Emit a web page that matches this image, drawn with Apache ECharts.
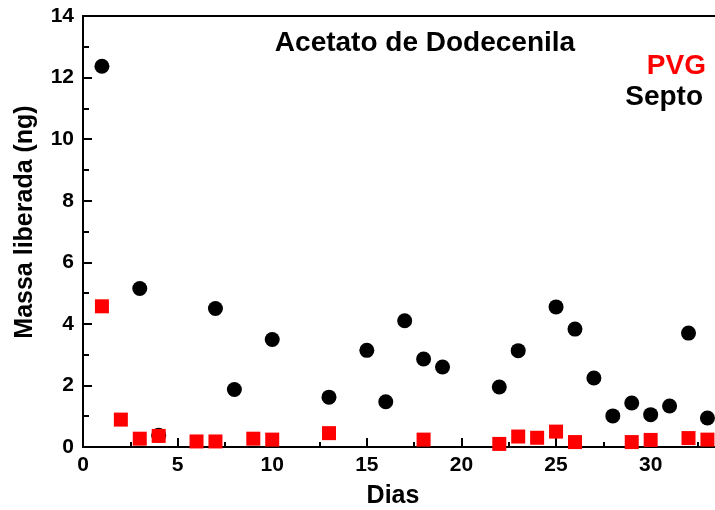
<!DOCTYPE html>
<html>
<head>
<meta charset="utf-8">
<script src="https://cdn.jsdelivr.net/npm/echarts@6/dist/echarts.min.js"></script>
<style>
  html, body { margin: 0; padding: 0; background: #fff; }
  #chart { width: 715px; height: 510px; }
</style>
</head>
<body>
<div id="chart"></div>
<script>
// Release of dodecenyl acetate over time, two dispenser types
const septoDays   = [1, 3, 4, 7, 8, 10, 13, 15, 16, 17, 18, 19, 22, 23, 25, 26, 27, 28, 29, 30, 31, 32, 33];
const septoValues = [12.37, 5.15, 0.38, 4.5, 1.87, 3.49, 1.62, 3.14, 1.47, 4.1, 2.86, 2.6, 1.95, 3.13, 4.55, 3.83, 2.24, 1.01, 1.43, 1.05, 1.33, 3.7, 0.94];

const pvgDays   = [1, 2, 3, 4, 6, 7, 9, 10, 13, 18, 22, 23, 24, 25, 26, 29, 30, 32, 33];
const pvgValues = [4.57, 0.89, 0.27, 0.36, 0.18, 0.18, 0.27, 0.24, 0.45, 0.24, 0.1, 0.34, 0.3, 0.5, 0.16, 0.16, 0.23, 0.29, 0.24];

// x axis is cut at the right edge of the plot, a little past day 33
const xRange = [0, 33.4];
const xMajorTicks = [0, 5, 10, 15, 20, 25, 30];
const xMinorTicks = [2.5, 7.5, 12.5, 17.5, 22.5, 27.5, 32.5];
const yTicks = [0, 2, 4, 6, 8, 10, 12, 14];

const titleText = 'Acetato de Dodecenila';
const xName = 'Dias';
const yName = 'Massa liberada (ng)';
const seriesNames = ['PVG', 'Septo'];

const FONT = 'Liberation Sans, Arial, sans-serif';

const chart = echarts.init(document.getElementById('chart'), null, { renderer: 'canvas' });

const pair = (xs, ys) => xs.map((x, i) => [x, ys[i]]);

const axisLineStyle = { color: '#000', width: 2 };
const tickStyle = { color: '#000', width: 2 };

const baseX = {
  type: 'value',
  min: xRange[0],
  max: xRange[1],
  splitLine: { show: false }
};

chart.setOption({
  animation: false,
  backgroundColor: '#fff',
  grid: { left: 83, top: 16, right: 0, bottom: 63, containLabel: false },
  xAxis: [
    Object.assign({}, baseX, {
      position: 'bottom',
      axisLine: { show: true, onZero: false, lineStyle: axisLineStyle },
      axisTick: { show: true, inside: true, length: 9, lineStyle: tickStyle, customValues: xMajorTicks },
      axisLabel: {
        color: '#000', fontFamily: FONT, fontWeight: 'bold', fontSize: 21, margin: 8,
        customValues: xMajorTicks
      }
    }),
    Object.assign({}, baseX, {
      position: 'top',
      axisLine: { show: true, onZero: false, lineStyle: axisLineStyle },
      axisTick: { show: false },
      axisLabel: { show: false }
    }),
    Object.assign({}, baseX, {
      position: 'bottom',
      axisLine: { show: false, onZero: false },
      axisTick: { show: true, inside: true, length: 5, lineStyle: tickStyle, customValues: xMinorTicks },
      axisLabel: { show: false }
    })
  ],
  yAxis: {
    type: 'value',
    min: yTicks[0],
    max: yTicks[yTicks.length - 1],
    interval: 2,
    axisLine: { show: true, onZero: false, lineStyle: axisLineStyle },
    axisTick: { show: true, inside: true, length: 9, lineStyle: tickStyle },
    minorTick: { show: true, splitNumber: 2, length: 6, lineStyle: tickStyle },
    axisLabel: { color: '#000', fontFamily: FONT, fontWeight: 'bold', fontSize: 21, margin: 9 },
    splitLine: { show: false },
    minorSplitLine: { show: false }
  },
  series: [
    {
      name: seriesNames[1],
      type: 'scatter',
      xAxisIndex: 0,
      symbol: 'circle',
      symbolSize: 15,
      itemStyle: { color: '#000', opacity: 1 },
      data: pair(septoDays, septoValues),
      z: 2
    },
    {
      name: seriesNames[0],
      type: 'scatter',
      xAxisIndex: 0,
      symbol: 'rect',
      symbolSize: 14,
      itemStyle: { color: '#ff0000', opacity: 1 },
      data: pair(pvgDays, pvgValues),
      z: 3
    }
  ],
  graphic: [
    {
      type: 'text', x: 425, y: 43,
      style: { text: titleText, fill: '#000', font: 'bold 28px ' + FONT, textAlign: 'center', textVerticalAlign: 'middle' }
    },
    {
      type: 'text', x: 706, y: 66,
      style: { text: seriesNames[0], fill: '#ff0000', font: 'bold 28px ' + FONT, textAlign: 'right', textVerticalAlign: 'middle' }
    },
    {
      type: 'text', x: 703, y: 97,
      style: { text: seriesNames[1], fill: '#000', font: 'bold 28px ' + FONT, textAlign: 'right', textVerticalAlign: 'middle' }
    },
    {
      type: 'text', x: 393, y: 496,
      style: { text: xName, fill: '#000', font: 'bold 25px ' + FONT, textAlign: 'center', textVerticalAlign: 'middle' }
    },
    {
      type: 'text', x: 25, y: 222, rotation: Math.PI / 2,
      style: { text: yName, fill: '#000', font: 'bold 25px ' + FONT, textAlign: 'center', textVerticalAlign: 'middle' }
    }
  ]
});
</script>
</body>
</html>
